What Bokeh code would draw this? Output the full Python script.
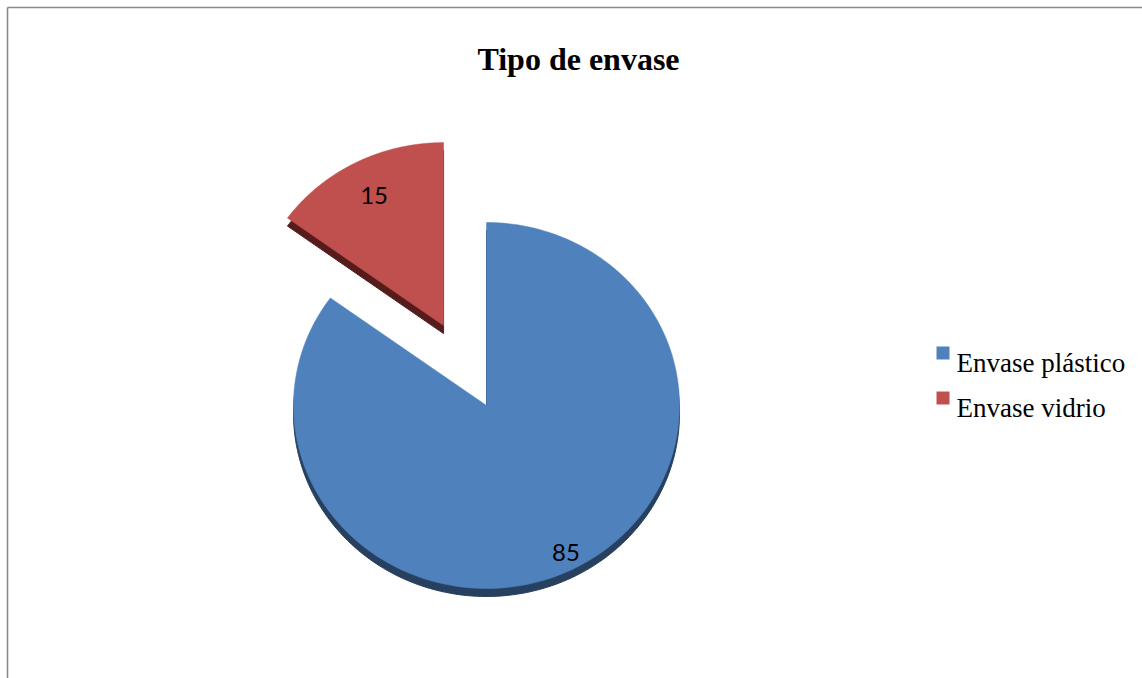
import numpy as np
from bokeh.plotting import figure
from bokeh.models import Range1d
from bokeh.core.properties import value
from bokeh.embed import file_html
from bokeh.resources import INLINE

# ---- data ----
title = "Tipo de envase"
categories = ["Envase plástico", "Envase vidrio"]
values = [85, 15]
labels = ["85", "15"]
explode = [0.0, 0.49]
face_colors = ["#4f81bd", "#c0504d"]
side_colors = ["#27405f", "#561c1b"]

# ---- layout constants (pixels, y downward) ----
W, H = 1142, 678
CX, CY = 486, 405
RX, RY = 193, 183
DEPTH = 8
LABEL_FRAC = 0.85
LABEL_DX, LABEL_DY = 5, 8

p = figure(width=W, height=H, x_range=Range1d(0, W), y_range=Range1d(H, 0),
           output_backend="svg", toolbar_location=None, min_border=0)
p.axis.visible = False
p.grid.visible = False
p.outline_line_color = None
p.background_fill_color = "white"
p.border_fill_color = "white"

# chart border (top & left visible)
p.multi_line(xs=[[7, W], [7, 7]], ys=[[7, 7], [7, H]], line_color="#8a8a8a", line_width=1.6)

total = float(sum(values))
cw = np.cumsum([0] + values) / total * 360.0  # clockwise degrees from top
slices = []
for i, v in enumerate(values):
    a0 = np.deg2rad(90 - cw[i])
    a1 = np.deg2rad(90 - cw[i + 1])
    mid = (a0 + a1) / 2
    ox = CX + explode[i] * RX * np.cos(mid)
    oy = CY - explode[i] * RY * np.sin(mid)
    t = np.linspace(a0, a1, 200)
    xs = [ox] + list(ox + RX * np.cos(t)) + [ox]
    ys = [oy] + list(oy - RY * np.sin(t)) + [oy]
    lx = ox + LABEL_FRAC * RX * np.cos(mid)
    ly = oy - LABEL_FRAC * RY * np.sin(mid)
    slices.append((xs, ys, lx, ly))

# side (depth) layer
p.patches(xs=[s[0] for s in slices], ys=[[y + DEPTH for y in s[1]] for s in slices],
          fill_color=side_colors, line_color=side_colors, line_width=1)
# faces
p.patches(xs=[s[0] for s in slices], ys=[s[1] for s in slices],
          fill_color=face_colors, line_color=face_colors, line_width=0.5)

# data labels
p.text(x=[s[2] + LABEL_DX for s in slices], y=[s[3] + LABEL_DY for s in slices], text=labels,
       text_font=value("Lato"), text_font_size="24px", text_color="black",
       text_align="center", text_baseline="alphabetic")

# title
p.text(x=[578], y=[58], text=[title], text_font=value("Liberation Serif"),
       text_font_size="32px", text_font_style="bold", text_color="black",
       text_align="center", text_baseline="alphabetic")

# legend
leg_y = [362, 407]
p.rect(x=[942.5] * len(categories), y=[y - 9.5 for y in leg_y], width=13, height=13,
       fill_color=face_colors, line_color=None)
p.text(x=[956] * len(categories), y=leg_y, text=categories,
       text_font=value("Liberation Serif"), text_font_size="27px", text_color="black",
       text_align="left", text_baseline="alphabetic")

open("out.html", "w").write(file_html(p, INLINE))
